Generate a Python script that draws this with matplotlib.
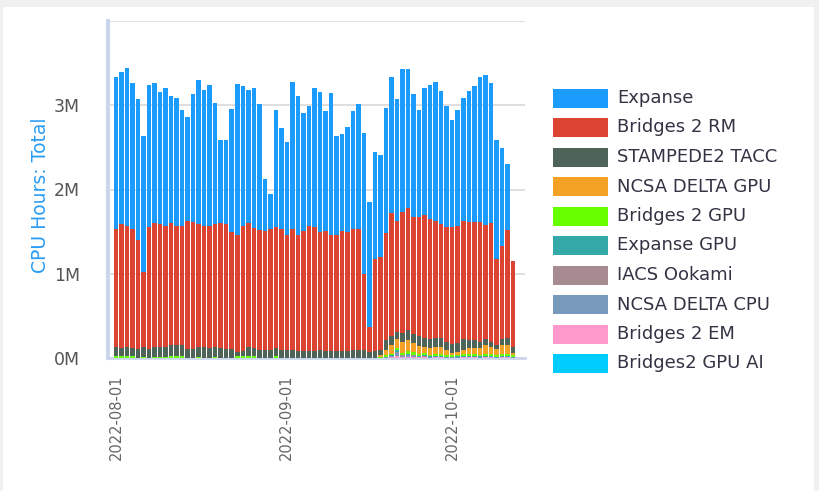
import matplotlib
matplotlib.use("Agg")
import matplotlib.pyplot as plt
import matplotlib.dates as mdates
import numpy as np
import pandas as pd
from matplotlib.patches import Rectangle
from matplotlib.ticker import FuncFormatter

days = pd.date_range("2022-08-01", "2022-10-12", freq="D")

# CPU hours per day, in millions
expanse = [1.81, 1.805, 1.875, 1.74, 1.67, 1.615, 1.69, 1.66, 1.575, 1.645,
           1.51, 1.525, 1.375, 1.23, 1.51, 1.715, 1.615, 1.675, 1.445, 0.99,
           1.005, 1.46, 1.785, 1.665, 1.58, 1.655, 1.485, 0.61, 0.42, 1.39,
           1.20, 1.095, 1.75, 1.645, 1.40, 1.42, 1.66, 1.66, 1.42, 1.675,
           1.175, 1.15, 1.24, 1.40, 1.48, 1.67, 1.48, 1.26, 1.21, 1.485,
           1.62, 1.44, 1.70, 1.645, 1.46, 1.27, 1.50, 1.59, 1.65, 1.585,
           1.44, 1.28, 1.375, 1.46, 1.55, 1.61, 1.72, 1.78, 1.66, 1.42,
           1.16, 0.78, 0.0]
bridges2_rm = [1.40, 1.465, 1.435, 1.41, 1.29, 0.88, 1.44, 1.475, 1.45, 1.44,
               1.44, 1.405, 1.405, 1.52, 1.51, 1.45, 1.435, 1.445, 1.45, 1.48,
               1.475, 1.39, 1.395, 1.485, 1.47, 1.425, 1.435, 1.41, 1.43, 1.43,
               1.43, 1.365, 1.44, 1.385, 1.43, 1.49, 1.47, 1.41, 1.43, 1.385,
               1.385, 1.43, 1.42, 1.43, 1.43, 0.91, 0.295, 1.10, 1.10, 1.275,
               1.455, 1.32, 1.43, 1.455, 1.39, 1.405, 1.46, 1.43, 1.39, 1.345,
               1.36, 1.38, 1.385, 1.40, 1.41, 1.41, 1.43, 1.35, 1.41, 1.01,
               1.10, 1.28, 1.02]
stampede2 = [0.11, 0.10, 0.11, 0.10, 0.11, 0.12, 0.11, 0.11, 0.12, 0.11,
             0.14, 0.14, 0.14, 0.11, 0.11, 0.12, 0.13, 0.12, 0.12, 0.12,
             0.11, 0.11, 0.05, 0.06, 0.11, 0.10, 0.09, 0.10, 0.10, 0.10,
             0.10, 0.10, 0.09, 0.08, 0.08, 0.08, 0.08, 0.09, 0.08, 0.08,
             0.08, 0.08, 0.08, 0.10, 0.10, 0.09, 0.075, 0.08, 0.07, 0.12,
             0.115, 0.09, 0.115, 0.12, 0.10, 0.125, 0.11, 0.10, 0.11, 0.11,
             0.09, 0.105, 0.105, 0.14, 0.09, 0.09, 0.07, 0.07, 0.06, 0.05,
             0.08, 0.08, 0.065]
delta_gpu = [0] * 47 + [0, 0.02, 0.06, 0.10, 0.10, 0.12, 0.13, 0.11, 0.09, 0.07,
                        0.08, 0.08, 0.08, 0.07, 0.035, 0.035, 0.04, 0.07, 0.07, 0.08,
                        0.11, 0.08, 0.08, 0.10, 0.11, 0.035]
bridges2_gpu = [0.02, 0.02, 0.02, 0.02, 0, 0.015, 0, 0.015, 0.015, 0.015,
                0.02, 0.02, 0.02, 0, 0, 0.015, 0, 0, 0.015, 0,
                0, 0, 0.02, 0.02, 0.02, 0.02, 0, 0, 0, 0.02] + [0] * 17 + \
               [0, 0.005, 0.015, 0.02, 0.03, 0.025, 0.03, 0.03, 0.025, 0.03,
                0.02, 0.025, 0.025, 0.015, 0.015, 0.02, 0.025, 0.025, 0.025, 0.02,
                0.025, 0.025, 0.015, 0.025, 0.025, 0.015]
expanse_gpu = [0] * 47 + [0, 0, 0.005, 0.008, 0.015, 0.01, 0.012, 0.01, 0.008, 0.01,
                          0.006, 0.008, 0.008, 0.005, 0.005, 0.006, 0.008, 0.008, 0.008, 0.006,
                          0.008, 0.008, 0.005, 0.008, 0.008, 0.005]
ookami = [0] * 47 + [0, 0, 0, 0.004, 0.01, 0.005, 0.006, 0.005, 0.003, 0.004,
                     0.003, 0.003, 0.003, 0.002, 0.002, 0.003, 0.003, 0.003, 0.003, 0.003,
                     0.003, 0.003, 0.002, 0.003, 0.003, 0.002]
delta_cpu = [0] * 47 + [0, 0.005, 0.007, 0.01, 0.04, 0.015, 0.02, 0.015, 0.008, 0.01,
                        0.006, 0.007, 0.007, 0.004, 0.004, 0.006, 0.007, 0.007, 0.007, 0.006,
                        0.007, 0.007, 0.004, 0.007, 0.007, 0.004]
bridges2_em = [0] * 47 + [0, 0, 0.002, 0.005, 0.02, 0.007, 0.009, 0.007, 0.003, 0.003,
                          0.002, 0.004, 0.004, 0.002, 0.002, 0.002, 0.004, 0.004, 0.004, 0.002,
                          0.004, 0.004, 0.002, 0.004, 0.004, 0.002]
bridges2_gpu_ai = [0] * 47 + [0, 0, 0.001, 0.003, 0.005, 0.003, 0.003, 0.003, 0.003, 0.003,
                              0.003, 0.003, 0.003, 0.002, 0.002, 0.003, 0.003, 0.003, 0.003, 0.003,
                              0.003, 0.003, 0.002, 0.003, 0.003, 0.002]

# legend order (top of stack first)
names = ["Expanse", "Bridges 2 RM", "STAMPEDE2 TACC", "NCSA DELTA GPU", "Bridges 2 GPU",
         "Expanse GPU", "IACS Ookami", "NCSA DELTA CPU", "Bridges 2 EM", "Bridges2 GPU AI"]
series = [expanse, bridges2_rm, stampede2, delta_gpu, bridges2_gpu,
          expanse_gpu, ookami, delta_cpu, bridges2_em, bridges2_gpu_ai]
colors = ["#1b9bfb", "#dc4431", "#4f6459", "#f4a226", "#66ff00",
          "#33aaa8", "#a68b91", "#7799bb", "#ff99cc", "#00ccff"]

W, H = 820, 491
fig = plt.figure(figsize=(W / 100, H / 100), dpi=100, facecolor="#f0f0f0")
# white panel inside the grey frame
fig.add_artist(Rectangle((3 / W, 0), 811 / W, 484 / H,
                         transform=fig.transFigure, facecolor="white", edgecolor="none", zorder=0))

ax = fig.add_axes([108 / W, 1 - 358 / H, 417 / W, 337 / H])
ax.set_facecolor("none")

bottom = np.zeros(len(days))
for name, vals, col in reversed(list(zip(names, series, colors))):
    vals = np.array(vals)
    ax.bar(days, vals, bottom=bottom, width=0.82, color=col, linewidth=0, zorder=3)
    bottom += vals

ax.set_xlim(days[0] - pd.Timedelta(days=1.45), days[0] + pd.Timedelta(days=74.2))
ax.set_ylim(0, 4.0)
ax.set_yticks([0, 1, 2, 3, 4])
ax.yaxis.set_major_formatter(FuncFormatter(lambda v, p: "" if v >= 4 else f"{v:.0f}M"))
ax.grid(axis="y", color="#d9d9d9", linewidth=1.2, zorder=0)
ax.set_axisbelow(True)

ax.set_xticks(pd.to_datetime(["2022-08-01", "2022-09-01", "2022-10-01"]))
ax.xaxis.set_major_formatter(mdates.DateFormatter("%Y-%m-%d"))
plt.setp(ax.get_xticklabels(), rotation=90, fontsize=10.5, color="#666666")
ax.tick_params(axis="x", length=0, pad=12)
ax.tick_params(axis="y", length=0, pad=20, labelsize=12.5, labelcolor="#555555")

for s in ["top", "right"]:
    ax.spines[s].set_visible(False)
ax.spines["left"].set_color("#ccd6eb")
ax.spines["left"].set_linewidth(3)
ax.spines["bottom"].set_color("#ccd6eb")
ax.spines["bottom"].set_linewidth(2)

fig.text(41 / W, 1 - 195 / H, "CPU Hours: Total", rotation=90, ha="center", va="center",
         fontsize=13.5, color="#2a9df4")

# legend drawn by hand
for i, (name, col) in enumerate(zip(names, colors)):
    yc = 98 + i * 29.5
    fig.add_artist(Rectangle((553 / W, 1 - (yc + 9.5) / H), 55 / W, 19 / H,
                             transform=fig.transFigure, facecolor=col, edgecolor="none"))
    fig.text(617 / W, 1 - yc / H, name, ha="left", va="center", fontsize=13, color="#333344")

fig.savefig("out.png", dpi=100, facecolor=fig.get_facecolor())
